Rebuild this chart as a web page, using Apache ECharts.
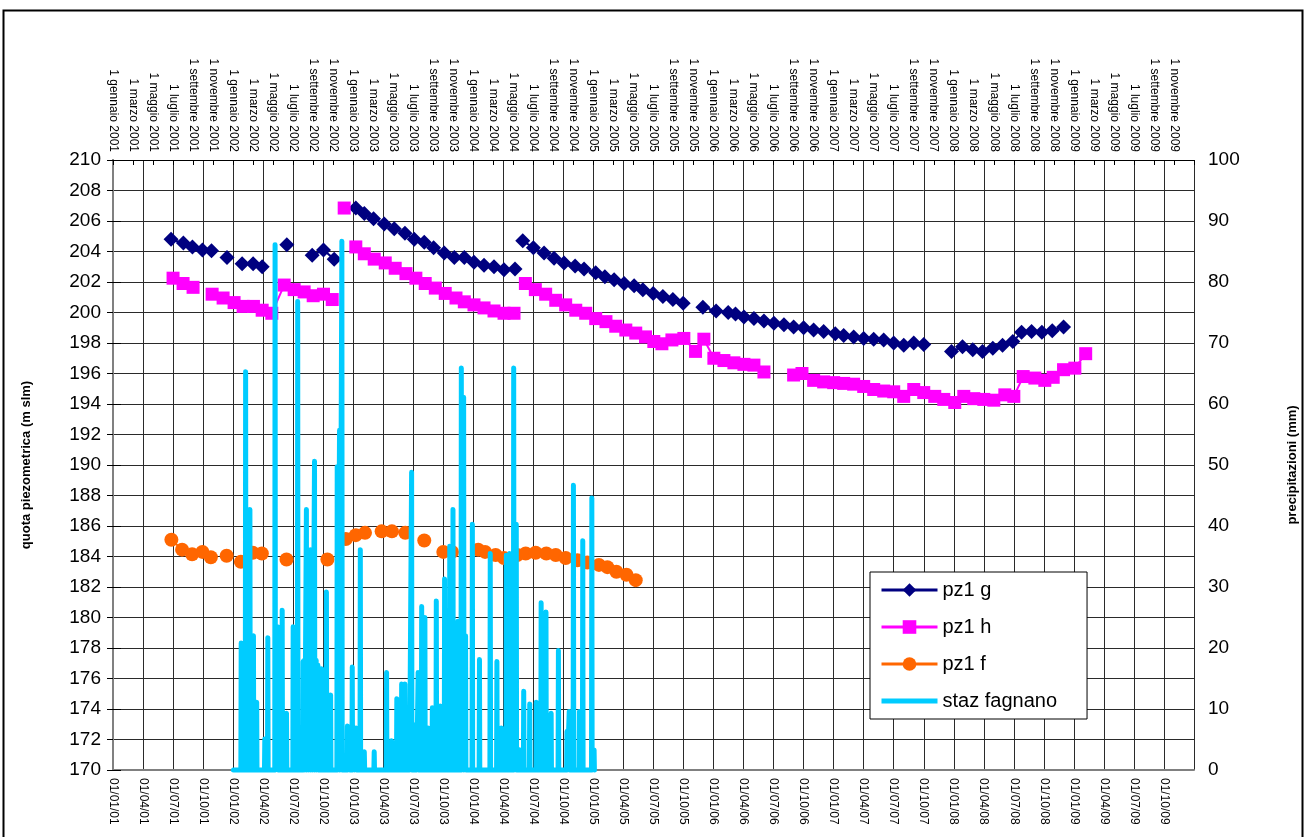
<!DOCTYPE html>
<html>
<head>
<meta charset="utf-8">
<script src="https://cdn.jsdelivr.net/npm/echarts@6/dist/echarts.min.js"></script>
<style>
html, body { margin: 0; padding: 0; background: #fff; }
#grafico { width: 1307px; height: 837px; }
</style>
</head>
<body>
<div id="grafico"></div>
<script>
// pz1 g (null = interruzione della linea)
const gDates = ['2001-06-25', '2001-08-02', '2001-08-30', '2001-09-29', '2001-10-27', '2001-11-20', '2001-12-13', '2002-01-06',
  '2002-01-29', '2002-03-01', '2002-03-29', '2002-05-01', '2002-06-12', '2002-07-20', '2002-08-29', '2002-10-02', '2002-11-04',
  '2002-12-10', '2003-01-09', '2003-02-04', '2003-03-02', '2003-04-04', '2003-05-04', '2003-06-06', '2003-07-04', '2003-08-04',
  '2003-09-02', '2003-10-04', '2003-11-04', '2003-12-04', '2004-01-03', '2004-02-03', '2004-03-03', '2004-04-03', '2004-05-06',
  '2004-05-18', '2004-05-30', '2004-07-01', '2004-08-03', '2004-09-03', '2004-10-03', '2004-11-06', '2004-12-03', '2005-01-08',
  '2005-02-05', '2005-03-03', '2005-04-03', '2005-05-03', '2005-05-30', '2005-06-30', '2005-07-30', '2005-08-30', '2005-09-30',
  '2005-10-30', '2005-11-29', '2006-01-09', '2006-02-14', '2006-03-07', '2006-04-02', '2006-05-02', '2006-06-02', '2006-07-02',
  '2006-08-02', '2006-09-01', '2006-10-01', '2006-11-01', '2006-12-01', '2007-01-06', '2007-02-01', '2007-03-01', '2007-04-01',
  '2007-05-01', '2007-06-01', '2007-07-01', '2007-08-01', '2007-09-01', '2007-10-01', '2007-11-15', '2007-12-25', '2008-01-28',
  '2008-02-27', '2008-03-28', '2008-04-28', '2008-05-28', '2008-06-28', '2008-07-25', '2008-08-25', '2008-09-25', '2008-10-27',
  '2008-11-30']
const gValues = [204.8, 204.55, 204.3, 204.1, 204.05, null, 203.6, null,
  203.2, 203.2, 203.0, null, 204.45, null, 203.75, 204.1, 203.5,
  null, 206.85, 206.5, 206.15, 205.8, 205.5, 205.2, 204.8, 204.6,
  204.25, 203.9, 203.6, 203.6, 203.3, 203.1, 203.0, 202.8, 202.85,
  null, 204.7, 204.25, 203.9, 203.55, 203.25, 203.05, 202.85, 202.6,
  202.35, 202.15, 201.9, 201.75, 201.5, 201.25, 201.05, 200.85, 200.6,
  null, 200.35, 200.1, 200.0, 199.9, 199.7, 199.6, 199.45, 199.3,
  199.2, 199.05, 199.0, 198.85, 198.75, 198.6, 198.5, 198.4, 198.3,
  198.25, 198.2, 198.0, 197.85, 198.0, 197.9, null, 197.45, 197.75,
  197.55, 197.45, 197.65, 197.85, 198.1, 198.7, 198.75, 198.7, 198.8,
  199.05]

// pz1 h
const hDates = ['2001-07-01', '2001-08-01', '2001-09-01', '2001-10-01', '2001-10-29', '2001-12-01', '2002-01-04', '2002-02-01',
  '2002-03-02', '2002-03-29', '2002-04-27', '2002-06-04', '2002-07-04', '2002-08-04', '2002-09-01', '2002-10-02', '2002-10-29',
  '2002-11-15', '2002-12-04', '2002-12-20', '2003-01-09', '2003-02-04', '2003-03-04', '2003-04-07', '2003-05-07', '2003-06-09',
  '2003-07-09', '2003-08-07', '2003-09-07', '2003-10-07', '2003-11-09', '2003-12-04', '2004-01-03', '2004-02-03', '2004-03-03',
  '2004-04-03', '2004-05-03', '2004-05-20', '2004-06-07', '2004-07-07', '2004-08-08', '2004-09-08', '2004-10-08', '2004-11-08',
  '2004-12-08', '2005-01-08', '2005-02-08', '2005-03-08', '2005-04-08', '2005-05-08', '2005-06-07', '2005-07-02', '2005-07-27',
  '2005-08-27', '2005-10-02', '2005-11-07', '2005-12-02', '2006-01-02', '2006-02-02', '2006-03-02', '2006-04-02', '2006-05-02',
  '2006-06-02', '2006-07-15', '2006-09-01', '2006-09-26', '2006-11-01', '2006-12-01', '2007-01-01', '2007-02-01', '2007-03-01',
  '2007-04-01', '2007-05-01', '2007-06-01', '2007-07-01', '2007-08-01', '2007-09-01', '2007-10-01', '2007-11-04', '2007-12-01',
  '2008-01-04', '2008-02-01', '2008-03-01', '2008-04-01', '2008-05-01', '2008-06-04', '2008-07-01', '2008-07-30', '2008-09-04',
  '2008-10-04', '2008-10-30', '2008-11-30', '2009-01-04', '2009-02-06']
const hValues = [202.25, 201.9, 201.65, null, 201.2, 200.95, 200.65, 200.4,
  200.4, 200.15, 199.95, 201.8, 201.5, 201.35, 201.1, 201.2, 200.85,
  null, 206.85, null, 204.3, 203.85, 203.5, 203.25, 202.9, 202.55,
  202.25, 201.9, 201.6, 201.25, 200.95, 200.7, 200.5, 200.3, 200.1,
  199.95, 199.95, null, 201.9, 201.5, 201.2, 200.8, 200.5, 200.15,
  199.95, 199.6, 199.4, 199.1, 198.85, 198.65, 198.4, 198.1, 197.95,
  198.2, 198.3, 197.45, 198.25, 197.0, 196.85, 196.7, 196.6, 196.55,
  196.1, null, 195.9, 196.0, 195.55, 195.45, 195.4, 195.35, 195.3,
  195.15, 194.95, 194.85, 194.8, 194.5, 194.95, 194.75, 194.5, 194.3,
  194.1, 194.5, 194.35, 194.3, 194.25, 194.6, 194.5, 195.8, 195.7,
  195.55, 195.75, 196.25, 196.35, 197.3]

// pz1 f
const fDates = ['2001-06-26', '2001-07-29', '2001-08-29', '2001-09-29', '2001-10-25', '2001-11-20', '2001-12-12', '2002-01-02',
  '2002-01-25', '2002-02-28', '2002-03-28', '2002-05-01', '2002-06-11', '2002-08-15', '2002-10-14', '2002-11-10', '2002-12-09',
  '2003-01-09', '2003-02-06', '2003-03-01', '2003-03-27', '2003-04-27', '2003-06-07', '2003-07-05', '2003-08-04', '2003-09-01',
  '2003-10-01', '2003-10-28', '2003-12-15', '2004-01-16', '2004-02-06', '2004-03-08', '2004-04-03', '2004-05-13', '2004-06-08',
  '2004-07-08', '2004-08-10', '2004-09-08', '2004-10-08', '2004-11-13', '2004-12-13', '2005-01-18', '2005-02-12', '2005-03-10',
  '2005-04-10', '2005-05-08']
const fValues = [185.1, 184.45, 184.15, 184.3, 183.95, null, 184.05, null,
  183.65, 184.25, 184.2, null, 183.8, null, 183.8, null, 185.15,
  185.4, 185.55, null, 185.65, 185.65, 185.55, null, 185.05, null,
  184.3, 184.3, null, 184.45, 184.3, 184.1, 183.9, 184.1, 184.2,
  184.25, 184.2, 184.1, 183.9, 183.75, 183.6, 183.45, 183.3, 183.0,
  182.8, 182.45]

// staz fagnano: giorni piovosi (mm), altri giorni 0
const rainStart = '2002-01-02'
const rainEnd = '2005-01-05'
const rainDates = ['2002-01-26', '2002-02-08', '2002-02-20', '2002-03-02', '2002-03-12', '2002-04-06', '2002-04-15', '2002-05-07',
  '2002-05-15', '2002-05-29', '2002-06-11', '2002-07-01', '2002-07-15', '2002-08-01', '2002-08-05', '2002-08-11', '2002-08-17',
  '2002-08-24', '2002-08-29', '2002-09-05', '2002-09-10', '2002-09-15', '2002-09-26', '2002-10-11', '2002-10-24', '2002-11-13',
  '2002-11-20', '2002-11-27', '2002-12-14', '2002-12-20', '2002-12-29', '2003-01-04', '2003-01-10', '2003-01-23', '2003-02-04',
  '2003-03-04', '2003-04-11', '2003-04-26', '2003-05-12', '2003-05-27', '2003-06-06', '2003-06-19', '2003-06-26', '2003-07-11',
  '2003-07-16', '2003-07-27', '2003-08-06', '2003-08-16', '2003-08-29', '2003-09-10', '2003-09-22', '2003-10-05', '2003-10-21',
  '2003-10-31', '2003-11-15', '2003-11-25', '2003-12-02', '2003-12-08', '2003-12-29', '2004-01-20', '2004-02-21', '2004-03-12',
  '2004-03-26', '2004-04-10', '2004-04-20', '2004-05-02', '2004-05-10', '2004-05-20', '2004-06-02', '2004-06-20', '2004-07-10',
  '2004-07-25', '2004-08-09', '2004-08-25', '2004-09-16', '2004-10-12', '2004-10-19', '2004-11-01', '2004-11-19', '2004-11-29',
  '2004-12-27', '2005-01-03']
const rainMm = [20.8, 65.3, 42.7, 22, 11.1, 5.1, 21.7, 86.1,
  23.5, 26.2, 9.3, 23.5, 76.8, 17.8, 18, 42.7, 19,
  36.1, 20, 50.6, 18, 17.2, 16.6, 29.2, 12.3, 49.7,
  55.7, 86.7, 7.2, 6, 16.9, 5, 6.9, 36.1, 3,
  3, 16, 4.8, 11.7, 14.1, 14.1, 5.7, 48.8, 7.5,
  16, 26.8, 25, 6.9, 10.2, 27.7, 10.5, 31.3, 36.7,
  42.7, 24.4, 65.9, 61.1, 22, 40.3, 18.1, 35.5, 17.8,
  6.9, 35.2, 35.5, 65.9, 40.3, 3.3, 12.9, 10.8, 11.1,
  27.4, 25.9, 9.3, 19.6, 6.3, 9.6, 46.7, 9.6, 37.6,
  44.6, 3.3]

const mesi = ['gennaio', 'febbraio', 'marzo', 'aprile', 'maggio', 'giugno',
  'luglio', 'agosto', 'settembre', 'ottobre', 'novembre', 'dicembre']

// asse in mesi dal 1 gennaio 2001
function toMesi(s) {
  let [y, mo, d] = s.split('-').map(Number)
  let giorni = new Date(Date.UTC(y, mo, 0)).getUTCDate()
  return (y - 2001) * 12 + (mo - 1) + (d - 1) / giorni
}
function spostaGiorno(s, k) {
  let [y, mo, d] = s.split('-').map(Number)
  return new Date(Date.UTC(y, mo - 1, d + k)).toISOString().slice(0, 10)
}
function pad(n) {
  return (n < 10 ? '0' : '') + n
}

let bottomLabels = []
for (let m = 0; m <= 105; m += 3) {
  bottomLabels.push('01/' + pad(m % 12 + 1) + '/' + pad((2001 + Math.floor(m / 12)) % 100))
}
let topLabels = []
for (let m = 0; m <= 106; m += 2) {
  topLabels.push('1 ' + mesi[m % 12] + ' ' + (2001 + Math.floor(m / 12)))
}

let dataG = gDates.map((d, i) => [toMesi(d), gValues[i]])
let dataH = hDates.map((d, i) => [toMesi(d), hValues[i]])
let dataF = fDates.map((d, i) => [toMesi(d), fValues[i]])
let dataRain = [[toMesi(rainStart), 0]]
rainDates.forEach((d, i) => {
  dataRain.push([toMesi(spostaGiorno(d, -1)), 0])
  dataRain.push([toMesi(d), rainMm[i]])
  dataRain.push([toMesi(spostaGiorno(d, 1)), 0])
})
dataRain.push([toMesi(rainEnd), 0])

const font = 'Arial, "Liberation Sans", sans-serif'
const gridColor = '#2a2a2a'
const axisGray = '#808080'

let myChart = echarts.init(document.getElementById('grafico'))

let option = {
  animation: false,
  backgroundColor: '#ffffff',
  textStyle: { fontFamily: font, color: '#000' },
  graphic: [
    {
      type: 'rect',
      shape: { x: 3.5, y: 10.5, width: 1299, height: 860 },
      style: { fill: 'none', stroke: '#000', lineWidth: 2 },
      silent: true,
      z: -1
    }
  ],
  grid: { left: 113, right: 112, top: 160, bottom: 67 },
  legend: {
    orient: 'vertical',
    left: 870,
    top: 572,
    padding: [8, 30, 8, 10],
    itemWidth: 56,
    itemHeight: 17,
    itemGap: 17,
    backgroundColor: '#ffffff',
    borderColor: '#000',
    borderWidth: 1,
    borderRadius: 0,
    lineStyle: { width: 3 },
    textStyle: { fontSize: 20, fontFamily: font, color: '#000' },
    data: [
      'pz1 g',
      'pz1 h',
      'pz1 f',
      { name: 'staz fagnano', icon: 'path://M0,0H56V5H0Z', itemStyle: { color: '#00ccff' } }
    ]
  },
  xAxis: [
    {
      type: 'value',
      position: 'bottom',
      min: 0,
      max: 108,
      interval: 3,
      axisLine: { lineStyle: { color: axisGray, width: 2 } },
      axisTick: { show: false },
      axisLabel: {
        rotate: -90,
        fontSize: 12,
        margin: 8,
        color: '#000',
        formatter: v => bottomLabels[Math.round(v) / 3] || ''
      },
      splitLine: { show: true, lineStyle: { color: gridColor, width: 1 } }
    },
    {
      type: 'value',
      position: 'top',
      min: 0,
      max: 108,
      interval: 2,
      axisLine: { lineStyle: { color: '#000', width: 1 } },
      axisTick: { show: true, inside: true, length: 5, lineStyle: { color: '#000' } },
      axisLabel: {
        rotate: 90,
        fontSize: 12,
        margin: 8,
        color: '#000',
        formatter: v => topLabels[Math.round(v) / 2] || ''
      },
      splitLine: { show: false }
    }
  ],
  yAxis: [
    {
      type: 'value',
      position: 'left',
      min: 170,
      max: 210,
      interval: 2,
      name: 'quota piezometrica (m slm)',
      nameLocation: 'middle',
      nameRotate: 90,
      nameGap: 80,
      nameTextStyle: { fontSize: 13, fontWeight: 'bold', color: '#000' },
      axisLine: { show: true, lineStyle: { color: axisGray, width: 2 } },
      axisTick: { show: true, length: 6, lineStyle: { color: '#000' } },
      axisLabel: { fontSize: 19, margin: 12, color: '#000' },
      splitLine: { show: true, lineStyle: { color: gridColor, width: 1 } }
    },
    {
      type: 'value',
      position: 'right',
      min: 0,
      max: 100,
      interval: 10,
      name: 'precipitazioni (mm)',
      nameLocation: 'middle',
      nameRotate: 90,
      nameGap: 92,
      nameTextStyle: { fontSize: 13, fontWeight: 'bold', color: '#000' },
      axisLine: { show: true, lineStyle: { color: axisGray, width: 2 } },
      axisTick: { show: true, length: 8, lineStyle: { color: '#000' } },
      axisLabel: { fontSize: 19, margin: 14, color: '#000' },
      splitLine: { show: false }
    }
  ],
  series: [
    {
      name: 'pz1 g',
      type: 'line',
      xAxisIndex: 0,
      yAxisIndex: 0,
      data: dataG,
      connectNulls: false,
      symbol: 'diamond',
      symbolSize: 15,
      itemStyle: { color: '#000080' },
      lineStyle: { color: '#000080', width: 2 },
      z: 2
    },
    {
      name: 'pz1 h',
      type: 'line',
      xAxisIndex: 0,
      yAxisIndex: 0,
      data: dataH,
      connectNulls: false,
      symbol: 'rect',
      symbolSize: 13,
      itemStyle: { color: '#ff00ff' },
      lineStyle: { color: '#ff00ff', width: 2 },
      z: 2
    },
    {
      name: 'pz1 f',
      type: 'line',
      xAxisIndex: 0,
      yAxisIndex: 0,
      data: dataF,
      connectNulls: false,
      symbol: 'circle',
      symbolSize: 14,
      itemStyle: { color: '#ff6600' },
      lineStyle: { color: '#ff6600', width: 2 },
      z: 2
    },
    {
      name: 'staz fagnano',
      type: 'line',
      xAxisIndex: 0,
      yAxisIndex: 1,
      data: dataRain,
      symbol: 'none',
      clip: false,
      itemStyle: { color: '#00ccff' },
      lineStyle: { color: '#00ccff', width: 5, cap: 'round', join: 'round' },
      z: 3
    }
  ]
}

myChart.setOption(option)
</script>
</body>
</html>
